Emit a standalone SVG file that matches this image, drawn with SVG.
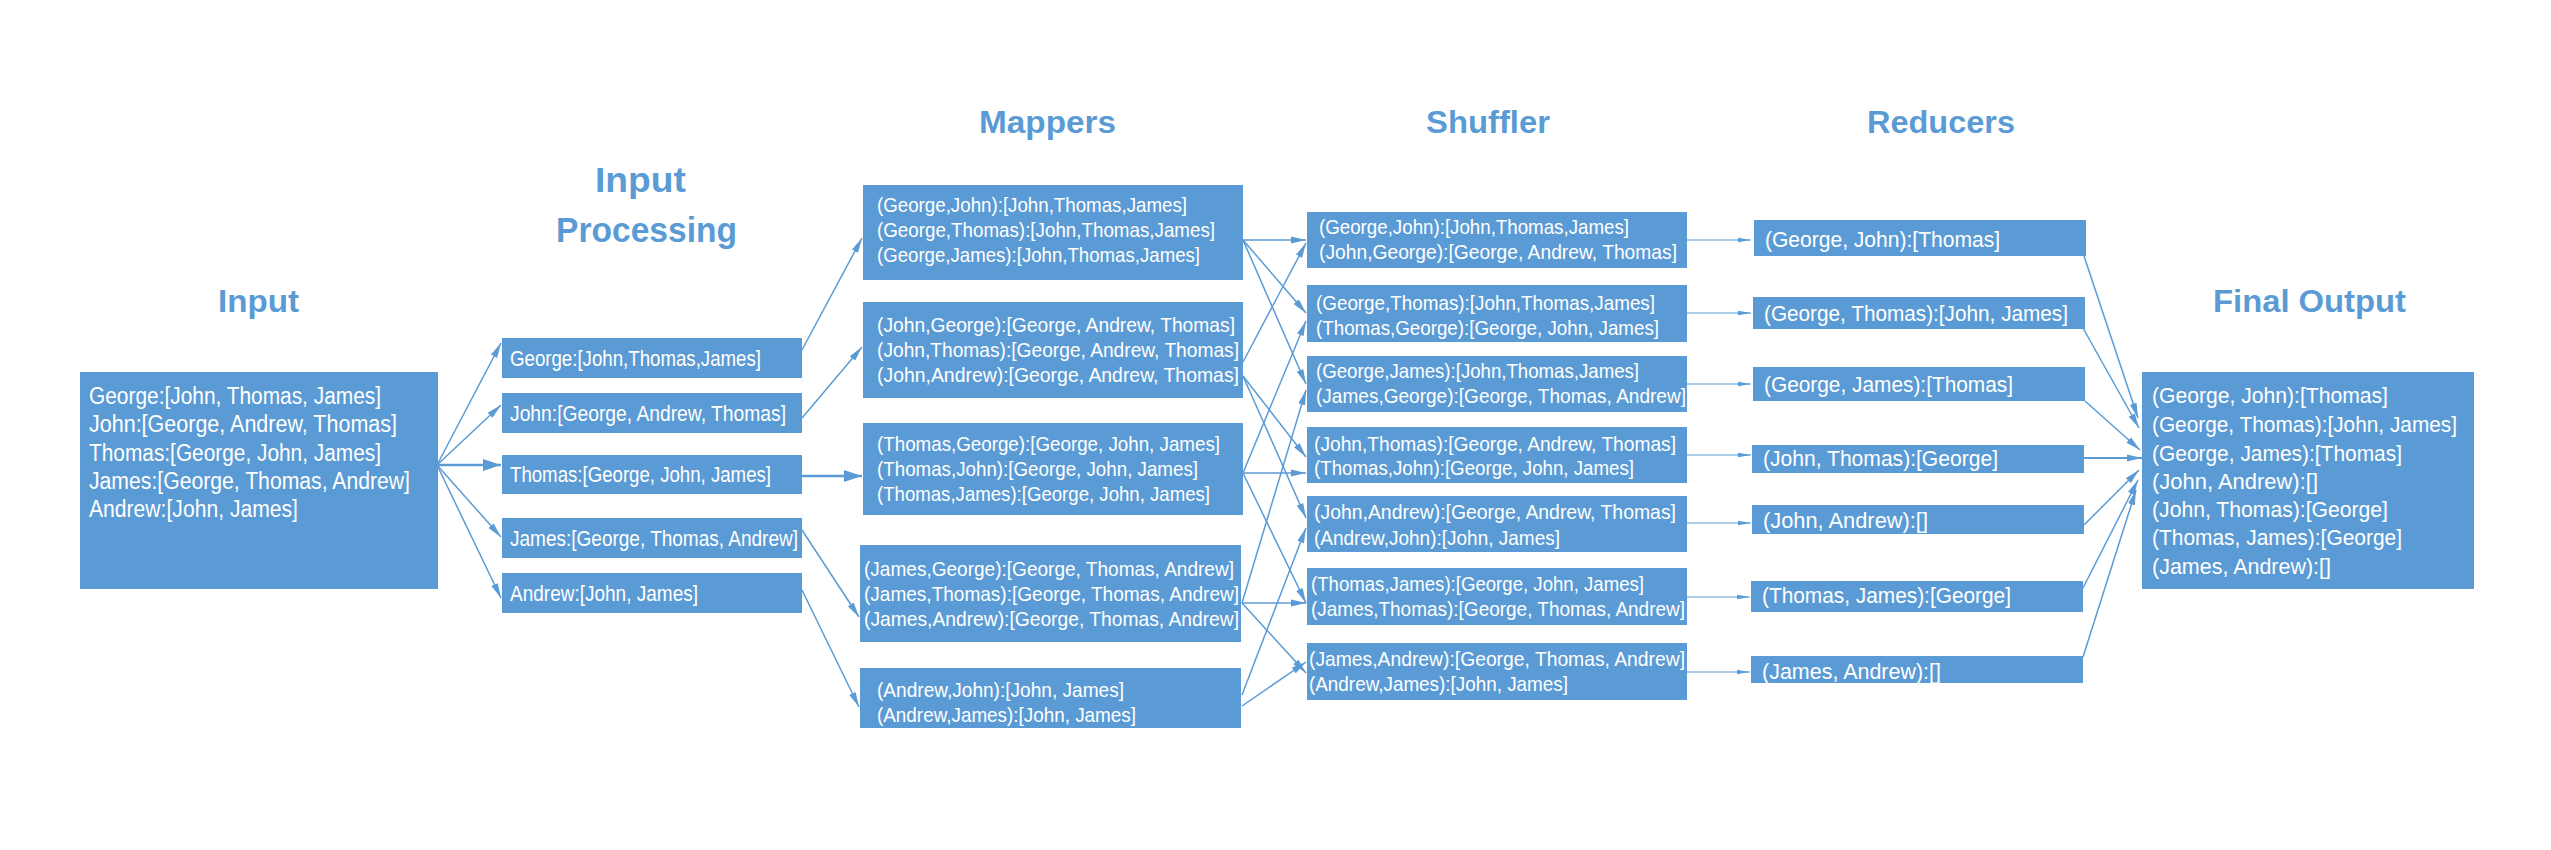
<svg xmlns="http://www.w3.org/2000/svg" width="2551" height="850" viewBox="0 0 2551 850">
<style>
.box{fill:#5B9BD5;}
.t{font-family:"Liberation Sans",Arial,sans-serif;fill:#ffffff;dominant-baseline:central;}
.f23{font-size:23px;}
.f22{font-size:22px;}
.f21{font-size:21px;}
.f20{font-size:20px;}
.title{font-family:"Liberation Sans",Arial,sans-serif;font-weight:bold;fill:#5B9BD5;font-size:32px;}
.c{stroke:#5B9BD5;stroke-width:1.5;fill:none;marker-end:url(#ah);}
.thick{stroke-width:2.7;marker-end:url(#ahL);}
.thin{stroke-width:1.2;marker-end:url(#ahS);}
</style>
<defs>
<marker id="ah" markerUnits="userSpaceOnUse" markerWidth="16" markerHeight="8" refX="15" refY="4" orient="auto"><path d="M0,0.5 L15,4 L0,7.5 z" fill="#5B9BD5"/></marker>
<marker id="ahL" markerUnits="userSpaceOnUse" markerWidth="19" markerHeight="12" refX="18" refY="6" orient="auto"><path d="M0,0 L18,6 L0,12 z" fill="#5B9BD5"/></marker>
<marker id="ahS" markerUnits="userSpaceOnUse" markerWidth="14" markerHeight="6" refX="13" refY="3" orient="auto"><path d="M0,0.8 L13,3 L0,5.2 z" fill="#5B9BD5"/></marker>
</defs>
<rect width="2551" height="850" fill="#ffffff"/>

<g id="titles">
<text class="title" x="218" y="312" textLength="81" lengthAdjust="spacingAndGlyphs">Input</text>
<text class="title" x="595" y="192" style="font-size:35px" textLength="91" lengthAdjust="spacingAndGlyphs">Input</text>
<text class="title" x="556" y="242" style="font-size:35px" textLength="181" lengthAdjust="spacingAndGlyphs">Processing</text>
<text class="title" x="979" y="133" textLength="137" lengthAdjust="spacingAndGlyphs">Mappers</text>
<text class="title" x="1426" y="133" textLength="124" lengthAdjust="spacingAndGlyphs">Shuffler</text>
<text class="title" x="1867" y="133" textLength="148" lengthAdjust="spacingAndGlyphs">Reducers</text>
<text class="title" x="2213" y="312" textLength="193" lengthAdjust="spacingAndGlyphs">Final Output</text>
</g>

<g id="connectors">
<line class="c" x1="437" y1="465" x2="501" y2="343"/>
<line class="c" x1="437" y1="465" x2="501" y2="405"/>
<line class="c thick" x1="437" y1="465" x2="501" y2="465"/>
<line class="c" x1="437" y1="465" x2="501" y2="537"/>
<line class="c" x1="437" y1="465" x2="501" y2="598"/>

<line class="c" x1="802" y1="350" x2="862" y2="238"/>
<line class="c" x1="802" y1="418" x2="862" y2="347"/>
<line class="c thick" x1="802" y1="476" x2="862" y2="476"/>
<line class="c" x1="802" y1="530" x2="859" y2="617"/>
<line class="c" x1="802" y1="590" x2="859" y2="707"/>

<line class="c" x1="1243" y1="240" x2="1306" y2="240"/>
<line class="c" x1="1243" y1="240" x2="1306" y2="313"/>
<line class="c" x1="1243" y1="240" x2="1306" y2="384"/>
<line class="c" x1="1243" y1="362" x2="1306" y2="243"/>
<line class="c" x1="1243" y1="376" x2="1306" y2="457"/>
<line class="c" x1="1243" y1="376" x2="1306" y2="518"/>
<line class="c" x1="1243" y1="473" x2="1306" y2="321"/>
<line class="c" x1="1243" y1="473" x2="1306" y2="473"/>
<line class="c" x1="1243" y1="473" x2="1306" y2="603"/>
<line class="c" x1="1242" y1="603" x2="1306" y2="390"/>
<line class="c" x1="1242" y1="603" x2="1306" y2="603"/>
<line class="c" x1="1242" y1="603" x2="1306" y2="673"/>
<line class="c" x1="1242" y1="695" x2="1306" y2="528"/>
<line class="c" x1="1242" y1="706" x2="1306" y2="662"/>

<line class="c thin" x1="1687" y1="240" x2="1751" y2="240"/>
<line class="c thin" x1="1687" y1="313" x2="1751" y2="313"/>
<line class="c thin" x1="1687" y1="384" x2="1751" y2="384"/>
<line class="c thin" x1="1687" y1="455" x2="1751" y2="455"/>
<line class="c thin" x1="1687" y1="523" x2="1751" y2="523"/>
<line class="c thin" x1="1687" y1="597" x2="1750" y2="597"/>
<line class="c thin" x1="1687" y1="672" x2="1750" y2="672"/>

<line class="c" x1="2084" y1="256" x2="2138" y2="418"/>
<line class="c" x1="2083" y1="328" x2="2139" y2="428"/>
<line class="c" x1="2085" y1="401" x2="2140" y2="450"/>
<line class="c" style="stroke-width:2.2" x1="2084" y1="458" x2="2142" y2="458"/>
<line class="c" x1="2084" y1="525" x2="2139" y2="470"/>
<line class="c" x1="2083" y1="588" x2="2138" y2="480"/>
<line class="c" x1="2083" y1="657" x2="2136" y2="490"/>
</g>

<g id="input">
<rect class="box" x="80" y="372" width="358" height="217"/>
<text class="t f23" x="89" y="396" textLength="292" lengthAdjust="spacingAndGlyphs">George:[John, Thomas, James]</text>
<text class="t f23" x="89" y="424" textLength="308" lengthAdjust="spacingAndGlyphs">John:[George, Andrew, Thomas]</text>
<text class="t f23" x="89" y="453" textLength="292" lengthAdjust="spacingAndGlyphs">Thomas:[George, John, James]</text>
<text class="t f23" x="89" y="481" textLength="321" lengthAdjust="spacingAndGlyphs">James:[George, Thomas, Andrew]</text>
<text class="t f23" x="89" y="509" textLength="209" lengthAdjust="spacingAndGlyphs">Andrew:[John, James]</text>
</g>

<g id="ip-george">
<rect class="box" x="502" y="338" width="300" height="40"/>
<text class="t f22" x="510" y="358" textLength="251" lengthAdjust="spacingAndGlyphs">George:[John,Thomas,James]</text>
</g>
<g id="ip-john">
<rect class="box" x="502" y="393" width="300" height="40"/>
<text class="t f22" x="510" y="413" textLength="276" lengthAdjust="spacingAndGlyphs">John:[George, Andrew, Thomas]</text>
</g>
<g id="ip-thomas">
<rect class="box" x="502" y="455" width="300" height="39"/>
<text class="t f22" x="510" y="474" textLength="261" lengthAdjust="spacingAndGlyphs">Thomas:[George, John, James]</text>
</g>
<g id="ip-james">
<rect class="box" x="502" y="518" width="300" height="40"/>
<text class="t f22" x="510" y="538" textLength="288" lengthAdjust="spacingAndGlyphs">James:[George, Thomas, Andrew]</text>
</g>
<g id="ip-andrew">
<rect class="box" x="502" y="573" width="300" height="40"/>
<text class="t f22" x="510" y="593" textLength="188" lengthAdjust="spacingAndGlyphs">Andrew:[John, James]</text>
</g>

<g id="map-george">
<rect class="box" x="863" y="185" width="380" height="95"/>
<text class="t f21" x="877" y="204" textLength="310" lengthAdjust="spacingAndGlyphs">(George,John):[John,Thomas,James]</text>
<text class="t f21" x="877" y="229" textLength="338" lengthAdjust="spacingAndGlyphs">(George,Thomas):[John,Thomas,James]</text>
<text class="t f21" x="877" y="254" textLength="323" lengthAdjust="spacingAndGlyphs">(George,James):[John,Thomas,James]</text>
</g>
<g id="map-john">
<rect class="box" x="863" y="302" width="380" height="96"/>
<text class="t f21" x="877" y="324" textLength="358" lengthAdjust="spacingAndGlyphs">(John,George):[George, Andrew, Thomas]</text>
<text class="t f21" x="877" y="349" textLength="362" lengthAdjust="spacingAndGlyphs">(John,Thomas):[George, Andrew, Thomas]</text>
<text class="t f21" x="877" y="374" textLength="362" lengthAdjust="spacingAndGlyphs">(John,Andrew):[George, Andrew, Thomas]</text>
</g>
<g id="map-thomas">
<rect class="box" x="863" y="423" width="380" height="92"/>
<text class="t f21" x="877" y="443" textLength="343" lengthAdjust="spacingAndGlyphs">(Thomas,George):[George, John, James]</text>
<text class="t f21" x="877" y="468" textLength="321" lengthAdjust="spacingAndGlyphs">(Thomas,John):[George, John, James]</text>
<text class="t f21" x="877" y="493" textLength="333" lengthAdjust="spacingAndGlyphs">(Thomas,James):[George, John, James]</text>
</g>
<g id="map-james">
<rect class="box" x="860" y="545" width="381" height="97"/>
<text class="t f21" x="864" y="568" textLength="370" lengthAdjust="spacingAndGlyphs">(James,George):[George, Thomas, Andrew]</text>
<text class="t f21" x="864" y="593" textLength="375" lengthAdjust="spacingAndGlyphs">(James,Thomas):[George, Thomas, Andrew]</text>
<text class="t f21" x="864" y="618" textLength="375" lengthAdjust="spacingAndGlyphs">(James,Andrew):[George, Thomas, Andrew]</text>
</g>
<g id="map-andrew">
<rect class="box" x="860" y="668" width="381" height="60"/>
<text class="t f21" x="877" y="689" textLength="247" lengthAdjust="spacingAndGlyphs">(Andrew,John):[John, James]</text>
<text class="t f21" x="877" y="714" textLength="259" lengthAdjust="spacingAndGlyphs">(Andrew,James):[John, James]</text>
</g>

<g id="shuf-1">
<rect class="box" x="1307" y="212" width="380" height="56"/>
<text class="t f21" x="1319" y="226" textLength="310" lengthAdjust="spacingAndGlyphs">(George,John):[John,Thomas,James]</text>
<text class="t f21" x="1319" y="251" textLength="358" lengthAdjust="spacingAndGlyphs">(John,George):[George, Andrew, Thomas]</text>
</g>
<g id="shuf-2">
<rect class="box" x="1307" y="285" width="380" height="57"/>
<text class="t f21" x="1316" y="302" textLength="339" lengthAdjust="spacingAndGlyphs">(George,Thomas):[John,Thomas,James]</text>
<text class="t f21" x="1316" y="327" textLength="343" lengthAdjust="spacingAndGlyphs">(Thomas,George):[George, John, James]</text>
</g>
<g id="shuf-3">
<rect class="box" x="1307" y="356" width="380" height="56"/>
<text class="t f21" x="1316" y="370" textLength="323" lengthAdjust="spacingAndGlyphs">(George,James):[John,Thomas,James]</text>
<text class="t f21" x="1316" y="395" textLength="370" lengthAdjust="spacingAndGlyphs">(James,George):[George, Thomas, Andrew]</text>
</g>
<g id="shuf-4">
<rect class="box" x="1307" y="427" width="380" height="56"/>
<text class="t f21" x="1314" y="443" textLength="362" lengthAdjust="spacingAndGlyphs">(John,Thomas):[George, Andrew, Thomas]</text>
<text class="t f21" x="1314" y="467" textLength="320" lengthAdjust="spacingAndGlyphs">(Thomas,John):[George, John, James]</text>
</g>
<g id="shuf-5">
<rect class="box" x="1307" y="496" width="380" height="56"/>
<text class="t f21" x="1314" y="511" textLength="362" lengthAdjust="spacingAndGlyphs">(John,Andrew):[George, Andrew, Thomas]</text>
<text class="t f21" x="1314" y="537" textLength="246" lengthAdjust="spacingAndGlyphs">(Andrew,John):[John, James]</text>
</g>
<g id="shuf-6">
<rect class="box" x="1307" y="568" width="380" height="57"/>
<text class="t f21" x="1311" y="583" textLength="333" lengthAdjust="spacingAndGlyphs">(Thomas,James):[George, John, James]</text>
<text class="t f21" x="1311" y="608" textLength="374" lengthAdjust="spacingAndGlyphs">(James,Thomas):[George, Thomas, Andrew]</text>
</g>
<g id="shuf-7">
<rect class="box" x="1307" y="643" width="380" height="57"/>
<text class="t f21" x="1309" y="658" textLength="376" lengthAdjust="spacingAndGlyphs">(James,Andrew):[George, Thomas, Andrew]</text>
<text class="t f21" x="1309" y="683" textLength="259" lengthAdjust="spacingAndGlyphs">(Andrew,James):[John, James]</text>
</g>

<g id="red-1">
<rect class="box" x="1754" y="220" width="332" height="36"/>
<text class="t f22" x="1765" y="239" textLength="235" lengthAdjust="spacingAndGlyphs">(George, John):[Thomas]</text>
</g>
<g id="red-2">
<rect class="box" x="1753" y="297" width="332" height="32"/>
<text class="t f22" x="1764" y="313" textLength="304" lengthAdjust="spacingAndGlyphs">(George, Thomas):[John, James]</text>
</g>
<g id="red-3">
<rect class="box" x="1753" y="367" width="332" height="34"/>
<text class="t f22" x="1764" y="384" textLength="249" lengthAdjust="spacingAndGlyphs">(George, James):[Thomas]</text>
</g>
<g id="red-4">
<rect class="box" x="1752" y="445" width="332" height="28"/>
<text class="t f22" x="1763" y="458" textLength="235" lengthAdjust="spacingAndGlyphs">(John, Thomas):[George]</text>
</g>
<g id="red-5">
<rect class="box" x="1752" y="505" width="332" height="29"/>
<text class="t f22" x="1763" y="520" textLength="165" lengthAdjust="spacingAndGlyphs">(John, Andrew):[]</text>
</g>
<g id="red-6">
<rect class="box" x="1751" y="581" width="332" height="31"/>
<text class="t f22" x="1762" y="595" textLength="249" lengthAdjust="spacingAndGlyphs">(Thomas, James):[George]</text>
</g>
<g id="red-7">
<rect class="box" x="1751" y="656" width="332" height="27"/>
<text class="t f22" x="1762" y="671" textLength="179" lengthAdjust="spacingAndGlyphs">(James, Andrew):[]</text>
</g>

<g id="final">
<rect class="box" x="2142" y="372" width="332" height="217"/>
<text class="t f22" x="2152" y="395" textLength="236" lengthAdjust="spacingAndGlyphs">(George, John):[Thomas]</text>
<text class="t f22" x="2152" y="424" textLength="305" lengthAdjust="spacingAndGlyphs">(George, Thomas):[John, James]</text>
<text class="t f22" x="2152" y="453" textLength="250" lengthAdjust="spacingAndGlyphs">(George, James):[Thomas]</text>
<text class="t f22" x="2152" y="481" textLength="166" lengthAdjust="spacingAndGlyphs">(John, Andrew):[]</text>
<text class="t f22" x="2152" y="509" textLength="236" lengthAdjust="spacingAndGlyphs">(John, Thomas):[George]</text>
<text class="t f22" x="2152" y="537" textLength="250" lengthAdjust="spacingAndGlyphs">(Thomas, James):[George]</text>
<text class="t f22" x="2152" y="566" textLength="179" lengthAdjust="spacingAndGlyphs">(James, Andrew):[]</text>
</g>
</svg>
